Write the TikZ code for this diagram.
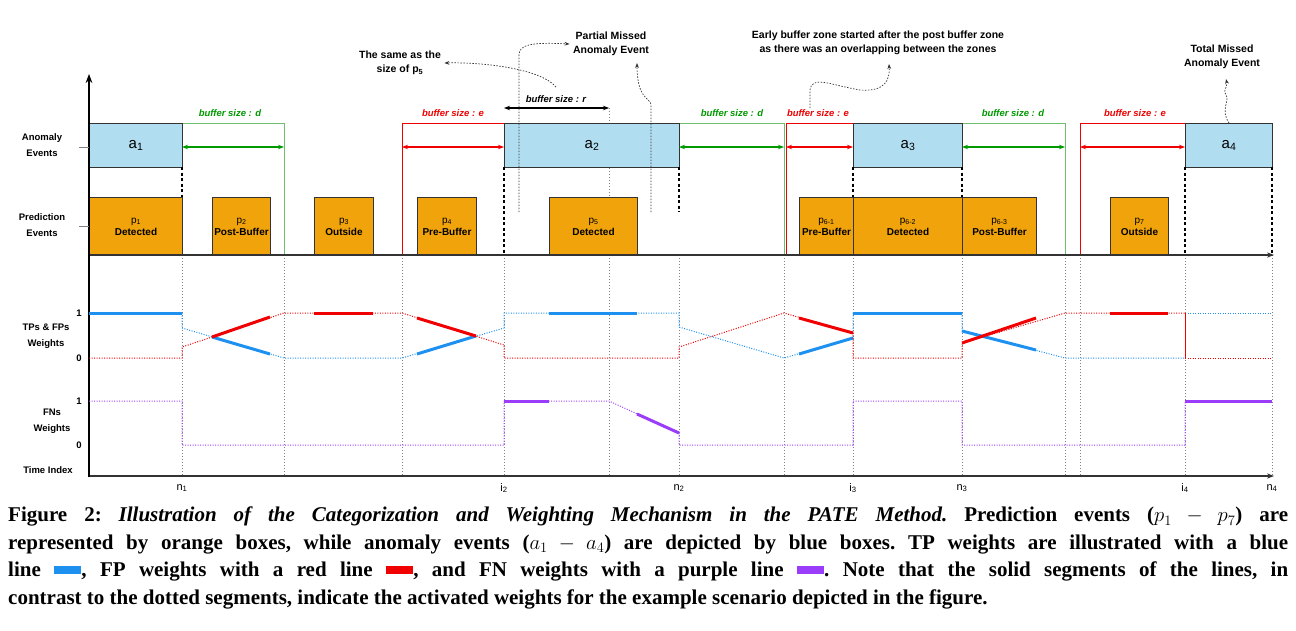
\documentclass[tikz,border=0pt]{standalone}
\usepackage{fontspec}
\setmainfont{Liberation Serif}
\setsansfont{Liberation Sans}
\usetikzlibrary{arrows.meta}
\definecolor{tpb}{RGB}{30,144,240}
\definecolor{fpr}{RGB}{240,0,0}
\definecolor{fnp}{RGB}{155,60,250}
\definecolor{abl}{RGB}{177,221,240}
\definecolor{por}{RGB}{240,163,10}
\definecolor{gd}{RGB}{0,153,0}
\definecolor{gl}{RGB}{110,190,110}
\tikzset{
 abox/.style={draw=black!80,line width=1pt,fill=abl,anchor=north west,inner sep=0,minimum height=44pt,font=\sffamily\fontsize{15}{15}\selectfont},
 pbox/.style={draw=black!80,line width=1pt,fill=por,anchor=north west,inner sep=0,minimum height=58pt,align=center,font=\sffamily\fontsize{10}{12}\selectfont},
 lab/.style={font=\sffamily\bfseries\fontsize{9.5}{16}\selectfont,align=center},
 ann/.style={font=\sffamily\bfseries\fontsize{10.5}{14}\selectfont,align=center},
 buf/.style={font=\sffamily\bfseries\itshape\fontsize{9.5}{9.5}\selectfont},
 gdot/.style={gray,line width=0.9pt,dash pattern=on 1pt off 2pt},
 bdash/.style={black,line width=1.2pt,dash pattern=on 3pt off 2.5pt},
 wdot/.style={line width=1pt,dash pattern=on 1pt off 1.5pt},
 wsol/.style={line width=3pt},
 adot/.style={black!80,line width=0.7pt,dash pattern=on 1.5pt off 1.5pt,-{Stealth[length=5pt]}},
 barrow/.style={line width=1.2pt,{Stealth[length=6pt]}-{Stealth[length=6pt]}},
}
\begin{document}
\begin{tikzpicture}[x=1pt,y=-1pt]
\useasboundingbox (0,0) rectangle (1296,630);
% gray dotted verticals
\foreach \x in {182,284,402,504,609,679,784,853,962,1065,1080,1185,1272}
  \draw[gdot] (\x,255) -- (\x,476);
\draw[gdot] (609,108) -- (609,197);
% buffers
\draw[gl,line width=1pt] (182,123) -- (284,123) -- (284,255);
\draw[fpr,line width=1pt] (402,255) -- (402,123) -- (504,123);
\draw[gl,line width=1pt] (679,123) -- (784,123) -- (784,255);
\draw[fpr,line width=1pt] (786,255) -- (786,123) -- (853,123);
\draw[gl,line width=1pt] (962,123) -- (1065,123) -- (1065,255);
\draw[fpr,line width=1pt] (1080,255) -- (1080,123) -- (1185,123);
% boxes
\node[abox,minimum width=93pt] (a1) at (89,123) {a\textsubscript{1}};
\node[abox,minimum width=175pt] (a2) at (504,123) {a\textsubscript{2}};
\node[abox,minimum width=109pt] (a3) at (853,123) {a\textsubscript{3}};
\node[abox,minimum width=87pt] (a4) at (1185,123) {a\textsubscript{4}};
\node[pbox,minimum width=93pt] (p1) at (89,197) {p\textsubscript{1}\\\textbf{Detected}};
\node[pbox,minimum width=58pt] (p2) at (212,197) {p\textsubscript{2}\\\textbf{Post-Buffer}};
\node[pbox,minimum width=59pt] (p3) at (314,197) {p\textsubscript{3}\\\textbf{Outside}};
\node[pbox,minimum width=59pt] (p4) at (417,197) {p\textsubscript{4}\\\textbf{Pre-Buffer}};
\node[pbox,minimum width=88pt] (p5) at (549,197) {p\textsubscript{5}\\\textbf{Detected}};
\node[pbox,minimum width=54pt] (p61) at (799,197) {p\textsubscript{6-1}\\\textbf{Pre-Buffer}};
\node[pbox,minimum width=109pt] (p62) at (853,197) {p\textsubscript{6-2}\\\textbf{Detected}};
\node[pbox,minimum width=74pt] (p63) at (962,197) {p\textsubscript{6-3}\\\textbf{Post-Buffer}};
\node[pbox,minimum width=58pt] (p7) at (1110,197) {p\textsubscript{7}\\\textbf{Outside}};
% buffer arrows
\draw[barrow,gd] (182,147) -- (284,147);
\node[buf,gd] (bd1) at (230,113) {buffer size : d};
\draw[barrow,fpr] (402,147) -- (504,147);
\node[buf,fpr] (be1) at (453,113) {buffer size : e};
\draw[barrow,black] (504,108) -- (609,108);
\node[buf] (br) at (556,99) {buffer size : r};
\draw[barrow,gd] (679,147) -- (784,147);
\node[buf,gd] (bd2) at (732,113) {buffer size : d};
\draw[barrow,fpr] (786,147) -- (853,147);
\node[buf,fpr] (be2) at (818,113) {buffer size : e};
\draw[barrow,gd] (962,147) -- (1065,147);
\node[buf,gd] (bd3) at (1013,113) {buffer size : d};
\draw[barrow,fpr] (1080,147) -- (1185,147);
\node[buf,fpr] (be3) at (1135,113) {buffer size : e};
% black dashed
\draw[bdash] (182,167) -- (182,197);
\draw[bdash] (504,167) -- (504,255);
\draw[bdash] (679,167) -- (679,212);
\draw[bdash] (853,167) -- (853,197);
\draw[bdash] (962,167) -- (962,197);
\draw[bdash] (1185,167) -- (1185,255);
\draw[bdash] (1272,167) -- (1272,255);
% axes
\draw[black!80,line width=1.2pt,-{Stealth[length=7pt]}] (89,255) -- (1274,255);
\draw[black!80,line width=1.2pt,-{Stealth[length=7pt]}] (89,476) -- (1274,476);
\draw[black,line width=1.2pt,-{Stealth[length=9pt]}] (89,477) -- (89,74);
\draw[gray,line width=0.6pt] (79,147) -- (89,147);
\draw[gray,line width=0.6pt] (79,226) -- (89,226);
% left labels
\node[lab] (la) at (42,145) {Anomaly\\Events};
\node[lab] (lp) at (42,225) {Prediction\\Events};
\node[lab] (lt) at (46,336) {TPs \& FPs\\Weights};
\node[lab] (lf) at (52,421) {FNs\\Weights};
\node[lab] (li) at (48,470) {Time Index};
\foreach \y/\lbl in {313/1,358/0,401/1,445/0} \node[lab] at (79,\y) {\lbl};
% time labels
\foreach \x/\lbl in {182/n\textsubscript{1},504/i\textsubscript{2},679/n\textsubscript{2},853/i\textsubscript{3},962/n\textsubscript{3},1185/i\textsubscript{4},1272/n\textsubscript{4}}
  \node[font=\sffamily\fontsize{11}{11}\selectfont] at (\x,488) {\lbl};
% TP weights (blue)
\draw[tpb,wdot] (182,313) -- (182,328) -- (284,358) -- (402,358) -- (504,328) -- (504,313) -- (679,313) -- (679,327) -- (784,358) -- (853,338) -- (853,313) -- (962,313) -- (962,331) -- (1065,358) -- (1185,358);
\draw[tpb,wdot] (1185,313) -- (1272,313);
\draw[tpb,wsol] (89,313) -- (182,313);
\draw[tpb,wsol] (212,337) -- (270,354);
\draw[tpb,wsol] (417,354) -- (476,336);
\draw[tpb,wsol] (549,313) -- (637,313);
\draw[tpb,wsol] (799,354) -- (853,338);
\draw[tpb,wsol] (853,313) -- (962,313);
\draw[tpb,wsol] (962,331) -- (1036,350);
% FP weights (red)
\draw[fpr,wdot] (89,358) -- (182,358) -- (182,347) -- (284,313) -- (402,313) -- (504,345) -- (504,358) -- (679,358) -- (679,347) -- (784,313) -- (853,333) -- (853,358) -- (962,358) -- (962,343) -- (1065,313) -- (1185,313);
\draw[fpr,wdot] (1185,358) -- (1272,358);
\draw[fpr,line width=1pt] (1185,313) -- (1185,358);
\draw[fpr,wsol] (212,337) -- (270,317);
\draw[fpr,wsol] (314,313) -- (373,313);
\draw[fpr,wsol] (417,318) -- (476,336);
\draw[fpr,wsol] (799,318) -- (853,333);
\draw[fpr,wsol] (962,343) -- (1036,318);
\draw[fpr,wsol] (1110,313) -- (1168,313);
% FN weights (purple)
\draw[fnp,wdot] (89,401) -- (182,401) -- (182,445) -- (504,445) -- (504,401) -- (609,401) -- (679,433) -- (679,445) -- (853,445) -- (853,401) -- (962,401) -- (962,445) -- (1185,445) -- (1185,401);
\draw[fnp,wsol] (504,401) -- (549,401);
\draw[fnp,wsol] (637,414) -- (679,433);
\draw[fnp,wsol] (1185,401) -- (1272,401);
% annotations
\node[ann] (t1) at (400,63) {The same as the\\size of p\textsubscript{5}};
\node[ann] (t2) at (611,44) {Partial Missed\\Anomaly Event};
\node[ann] (t3) at (878,43) {Early buffer zone started after the post buffer zone\\as there was an overlapping between the zones};
\node[ann] (t4) at (1222,57) {Total Missed\\Anomaly Event};
\coordinate (c1) at (556,87);
\coordinate (c2) at (519,212);
\coordinate (c3) at (651,212);
\coordinate (c4) at (810,108);
\coordinate (c5) at (1229,123);
\draw[adot] (c1) .. controls (540,68) and (480,62) .. (t1.east);
\draw[adot] (c2) -- (519,55) .. controls (519,45) and (530,42) .. (t2.west);
\draw[adot] (c3) -- (651,105) .. controls (651,98) and (637,100) .. (637,63);
\draw[adot] (c4) -- (810,90) .. controls (812,75) and (830,85) .. (860,90) .. controls (885,92) and (890,80) .. (889,64);
\draw[adot] (c5) .. controls (1220,110) and (1230,100) .. (1226,95) .. controls (1222,90) and (1228,88) .. (1226,79);
% caption
\node[anchor=north west,inner sep=0,text width=1280pt,align=justify,font=\bfseries\fontsize{21}{27.5}\selectfont\frenchspacing] (cap) at (8,507) {Figure 2: \textit{Illustration of the Categorization and Weighting Mechanism in the PATE Method.} Prediction events ($p_1 - p_7$) are\linebreak represented by orange boxes, while anomaly events ($a_1 - a_4$) are depicted by blue boxes. TP weights are illustrated with a blue\linebreak line \textcolor{tpb}{\rule[0.15em]{1.3em}{0.35em}}, FP weights with a red line \textcolor{fpr}{\rule[0.15em]{1.3em}{0.35em}}, and FN weights with a purple line \textcolor{fnp}{\rule[0.15em]{1.3em}{0.35em}}. Note that the solid segments of the lines, in\linebreak contrast to the dotted segments, indicate the activated weights for the example scenario depicted in the figure.};
\end{tikzpicture}
\end{document}
